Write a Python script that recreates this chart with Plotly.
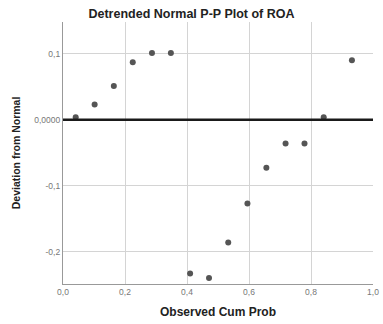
import plotly.graph_objects as go

# Observed cumulative probability and deviation from normal for ROA
obs_cum_prob = [0.041, 0.102, 0.164, 0.225, 0.287, 0.348, 0.410, 0.471,
                0.533, 0.595, 0.656, 0.718, 0.779, 0.841, 0.932]
deviation = [0.0035, 0.023, 0.051, 0.087, 0.101, 0.101, -0.233, -0.240,
             -0.186, -0.127, -0.073, -0.036, -0.036, 0.0035, 0.090]

x_ticks = [0.0, 0.2, 0.4, 0.6, 0.8, 1.0]
x_ticktext = ["0,0", "0,2", "0,4", "0,6", "0,8", "1,0"]
y_ticks = [0.1, 0.0, -0.1, -0.2]
y_ticktext = ["0,1", "0,0000", "-0,1", "-0,2"]

font = "Liberation Sans, Arial, sans-serif"

fig = go.Figure()
fig.add_trace(go.Scatter(
    x=obs_cum_prob, y=deviation, mode="markers",
    marker=dict(size=6, color="#555555"),
    showlegend=False,
))

# Reference line at zero deviation
fig.add_shape(type="line", xref="paper", yref="y", x0=0, x1=1, y0=0, y1=0,
              line=dict(color="#1a1a1a", width=2.5))

fig.update_layout(
    width=383, height=324,
    margin=dict(l=63, r=4, t=22, b=40),
    paper_bgcolor="white", plot_bgcolor="white",
    separators=",.",
    title=dict(text="<b>Detrended Normal P-P Plot of ROA</b>",
               x=0.5, xanchor="center", y=0.957, yanchor="middle",
               font=dict(family=font, size=12.5, color="#222222")),
    xaxis=dict(
        range=[0, 1.0], tickvals=x_ticks, ticktext=x_ticktext,
        showgrid=True, gridcolor="#d4d4d4", gridwidth=1,
        showline=True, linecolor="#999999", linewidth=1.2,
        zeroline=False, ticks="", ticklabeloverflow="allow",
        tickfont=dict(family=font, size=8.5, color="#777777"),
        title=dict(text="<b>Observed Cum Prob</b>", standoff=11,
                   font=dict(family=font, size=12, color="#222222")),
    ),
    yaxis=dict(
        range=[-0.249, 0.148], tickvals=y_ticks, ticktext=y_ticktext,
        showgrid=True, gridcolor="#d4d4d4", gridwidth=1,
        showline=True, linecolor="#999999", linewidth=1.2,
        zeroline=False, ticks="", tickfont=dict(family=font, size=8.5, color="#777777"),
        title=dict(text="<b>Deviation from Normal</b>", standoff=11,
                   font=dict(family=font, size=10.5, color="#222222")),
    ),
)

fig.write_html("out.html")
